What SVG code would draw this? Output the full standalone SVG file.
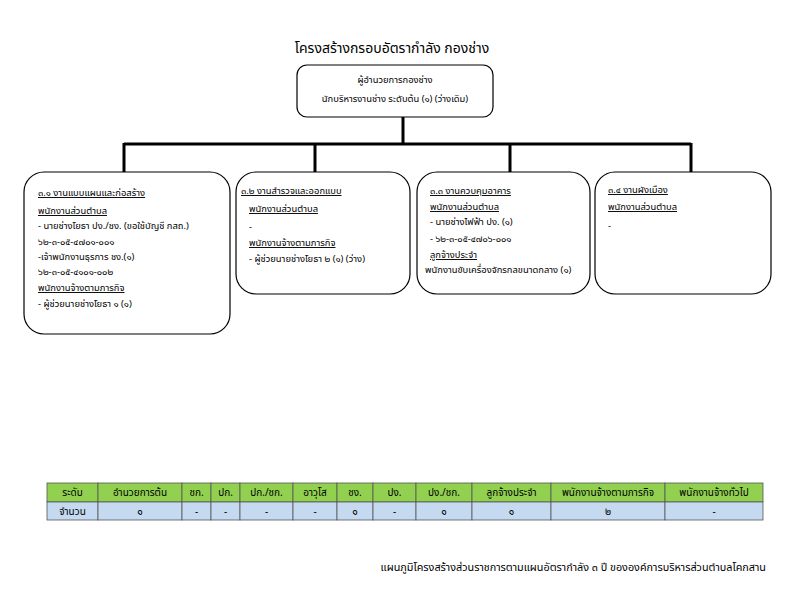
<svg xmlns="http://www.w3.org/2000/svg" width="792" height="612" viewBox="0 0 792 612">
<style>
text{font-family:Tahoma,"Noto Sans Thai","Liberation Sans",sans-serif;fill:#000}
.t{font-size:9.4px}
.u{text-decoration:underline}
.box{fill:#fff;stroke:#000;stroke-width:1.2}
.ln{stroke:#000;stroke-width:3;fill:none}
.hd{fill:#92D050;stroke:#555;stroke-width:0.8}
.dt{fill:#C5D9F1;stroke:#555;stroke-width:0.8}
.c{font-size:10px;text-anchor:middle}
</style>
<rect width="792" height="612" fill="#fff"/>
<text x="392" y="53" font-size="14" text-anchor="middle">โครงสร้างกรอบอัตรากำลัง กองช่าง</text>
<g id="connectors">
<path class="ln" d="M403 117V144M124 144H691M124 143V173M315 143V173M510 143V173M691 143V173"/>
</g>
<g id="top">
<rect class="box" x="297" y="65" width="196" height="52" rx="10"/>
<text class="t" x="395" y="83" text-anchor="middle">ผู้อำนวยการกองช่าง</text>
<text class="t" x="395" y="102" text-anchor="middle" font-size="9.8">นักบริหารงานช่าง ระดับต้น  (๑) (ว่างเดิม)</text>
</g>
<g id="box1">
<rect class="box" x="24" y="172" width="206" height="162" rx="20"/>
<text class="t u" x="38" y="196">๓.๑ งานแบบแผนและก่อสร้าง</text>
<text class="t u" x="38" y="214">พนักงานส่วนตำบล</text>
<text class="t" x="38" y="229">- นายช่างโยธา ปง./ชง. (ขอใช้บัญชี กสถ.)</text>
<text class="t" x="38" y="245">๖๒-๓-๐๕-๔๗๐๑-๐๐๑</text>
<text class="t" x="38" y="260">-เจ้าพนักงานธุรการ ชง.(๑)</text>
<text class="t" x="38" y="275">๖๒-๓-๐๕-๔๑๐๑-๐๐๒</text>
<text class="t u" x="38" y="291">พนักงานจ้างตามภารกิจ</text>
<text class="t" x="38" y="307">- ผู้ช่วยนายช่างโยธา ๑ (๑)</text>
</g>
<g id="box2">
<rect class="box" x="236" y="172" width="174" height="122" rx="20"/>
<text class="t u" x="241" y="194">๓.๒ งานสำรวจและออกแบบ</text>
<text class="t u" x="249" y="212">พนักงานส่วนตำบล</text>
<text class="t" x="249" y="230">-</text>
<text class="t u" x="249" y="246">พนักงานจ้างตามภารกิจ</text>
<text class="t" x="249" y="262">- ผู้ช่วยนายช่างโยธา ๒ (๑) (ว่าง)</text>
</g>
<g id="box3">
<rect class="box" x="417" y="172" width="173" height="122" rx="20"/>
<text class="t u" x="430" y="194">๓.๓ งานควบคุมอาคาร</text>
<text class="t u" x="430" y="210">พนักงานส่วนตำบล</text>
<text class="t" x="430" y="225">- นายช่างไฟฟ้า ปง. (๑)</text>
<text class="t" x="430" y="242">- ๖๒-๓-๐๕-๔๗๐๖-๐๐๑</text>
<text class="t u" x="430" y="258">ลูกจ้างประจำ</text>
<text class="t" x="425" y="273">พนักงานขับเครื่องจักรกลขนาดกลาง (๑)</text>
</g>
<g id="box4">
<rect class="box" x="595" y="172" width="176" height="122" rx="20"/>
<text class="t u" x="608" y="193">๓.๔ งานผังเมือง</text>
<text class="t u" x="608" y="210">พนักงานส่วนตำบล</text>
<text class="t" x="608" y="229">-</text>
</g>
<g id="table">
<rect class="hd" x="47" y="483" width="51" height="19"/>
<rect class="hd" x="98" y="483" width="84" height="19"/>
<rect class="hd" x="182" y="483" width="29" height="19"/>
<rect class="hd" x="211" y="483" width="29" height="19"/>
<rect class="hd" x="240" y="483" width="53" height="19"/>
<rect class="hd" x="293" y="483" width="44" height="19"/>
<rect class="hd" x="337" y="483" width="36" height="19"/>
<rect class="hd" x="373" y="483" width="43" height="19"/>
<rect class="hd" x="416" y="483" width="56" height="19"/>
<rect class="hd" x="472" y="483" width="79" height="19"/>
<rect class="hd" x="551" y="483" width="114" height="19"/>
<rect class="hd" x="665" y="483" width="98" height="19"/>
<rect class="dt" x="47" y="502" width="51" height="18"/>
<rect class="dt" x="98" y="502" width="84" height="18"/>
<rect class="dt" x="182" y="502" width="29" height="18"/>
<rect class="dt" x="211" y="502" width="29" height="18"/>
<rect class="dt" x="240" y="502" width="53" height="18"/>
<rect class="dt" x="293" y="502" width="44" height="18"/>
<rect class="dt" x="337" y="502" width="36" height="18"/>
<rect class="dt" x="373" y="502" width="43" height="18"/>
<rect class="dt" x="416" y="502" width="56" height="18"/>
<rect class="dt" x="472" y="502" width="79" height="18"/>
<rect class="dt" x="551" y="502" width="114" height="18"/>
<rect class="dt" x="665" y="502" width="98" height="18"/>
<text class="c" x="72.5" y="496">ระดับ</text>
<text class="c" x="140" y="496">อำนวยการต้น</text>
<text class="c" x="196.5" y="496">ชก.</text>
<text class="c" x="225.5" y="496">ปก.</text>
<text class="c" x="266.5" y="496">ปก./ชก.</text>
<text class="c" x="315" y="496">อาวุโส</text>
<text class="c" x="355" y="496">ชง.</text>
<text class="c" x="394.5" y="496">ปง.</text>
<text class="c" x="444" y="496">ปง./ชก.</text>
<text class="c" x="511.5" y="496">ลูกจ้างประจำ</text>
<text class="c" x="608" y="496">พนักงานจ้างตามภารกิจ</text>
<text class="c" x="714" y="496">พนักงานจ้างทั่วไป</text>
<text class="c" x="72.5" y="515">จำนวน</text>
<text class="c" x="140" y="515">๑</text>
<text class="c" x="196.5" y="515">-</text>
<text class="c" x="225.5" y="515">-</text>
<text class="c" x="266.5" y="515">-</text>
<text class="c" x="315" y="515">-</text>
<text class="c" x="355" y="515">๑</text>
<text class="c" x="394.5" y="515">-</text>
<text class="c" x="444" y="515">๑</text>
<text class="c" x="511.5" y="515">๑</text>
<text class="c" x="608" y="515">๒</text>
<text class="c" x="714" y="515">-</text>
</g>
<text x="766" y="571" font-size="10.8" text-anchor="end">แผนภูมิโครงสร้างส่วนราชการตามแผนอัตรากำลัง ๓ ปี ขององค์การบริหารส่วนตำบลโคกสาน</text>
</svg>
